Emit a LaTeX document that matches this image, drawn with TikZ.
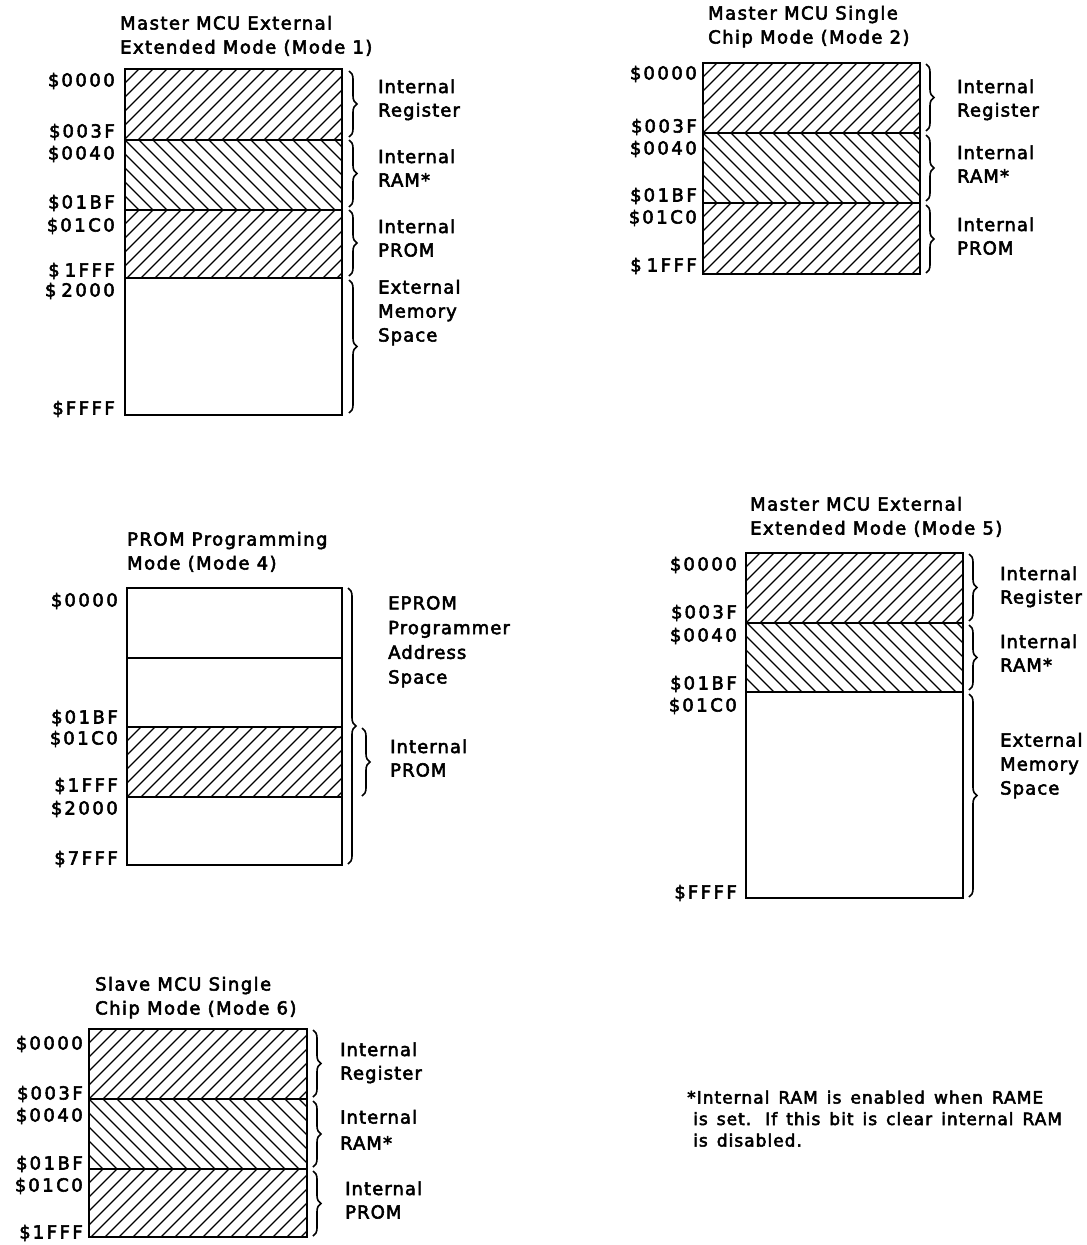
\documentclass[tikz,border=0pt]{standalone}
\usepackage{fontspec}
\setmainfont{DejaVu Sans}[LetterSpace=6,FakeBold=3]
\usetikzlibrary{decorations.pathreplacing}
\tikzset{
  lbl/.style={font=\fontsize{18}{23.5}\selectfont, inner sep=0pt, align=left, anchor=base west},
  ttl/.style={font=\fontsize{18}{24}\selectfont\addfontfeatures{LetterSpace=8}, inner sep=0pt, align=left, anchor=base west},
  addr/.style={font=\fontsize{18}{23.5}\selectfont\addfontfeatures{LetterSpace=14}, inner sep=0pt, anchor=base east},
  memoutline/.style={line width=2.8pt},
  hatchline/.style={line width=1.3pt},
  brc/.style={decorate, decoration={brace, amplitude=8pt}, line width=1.6pt},
}
\newcommand{\hatchNE}[4]{%
  \begin{scope}
    \clip (#1,#2) rectangle (#3,#4);
    \foreach \k in {0,...,26}{
      \pgfmathsetmacro{\cc}{#1+#2+\k*14}
      \draw[hatchline] ({\cc-#2},#2) -- ({\cc-#4},#4);
    }
  \end{scope}}
\newcommand{\hatchNW}[4]{%
  \begin{scope}
    \clip (#1,#2) rectangle (#3,#4);
    \foreach \k in {0,...,26}{
      \pgfmathsetmacro{\cc}{#1-#4+\k*14}
      \draw[hatchline] ({\cc+#2},#2) -- ({\cc+#4},#4);
    }
  \end{scope}}
\newcommand{\dol}{\$\hspace{2pt}}
\newcommand{\wsp}{\spaceskip=9pt\relax}
\begin{document}
\begin{tikzpicture}[x=1pt,y=-1pt]
\useasboundingbox (0,0) rectangle (1087,1245);

% ---------------- Mode 1 ----------------
\node[ttl] (t1) at (120,53.5) {Master MCU External\\Extended Mode (Mode 1)};
\hatchNE{125}{69}{342}{140}
\hatchNW{125}{140}{342}{210}
\hatchNE{125}{210}{342}{278}
\draw[memoutline] (125,69) rectangle (342,415);
\draw[memoutline] (125,140) -- (342,140) (125,210) -- (342,210) (125,278) -- (342,278);
\node[addr] (a1a) at (115,86.5) {\dol 0000};
\node[addr] (a1b) at (115,137.5) {\dol 003F};
\node[addr] (a1c) at (115,159.5) {\dol 0040};
\node[addr] (a1d) at (115,208.5) {\dol 01BF};
\node[addr] (a1e) at (115,231.5) {\dol 01C0};
\node[addr] (a1f) at (115,276.5) {\$\hspace{5pt}1FFF};
\node[addr] (a1g) at (115,296.5) {\$\hspace{5pt}2000};
\node[addr] (a1h) at (115,414.5) {\dol FFFF};
\coordinate (b1a) at (349,71);  \coordinate (b1b) at (349,137);
\coordinate (b1c) at (349,140); \coordinate (b1d) at (349,207);
\coordinate (b1e) at (349,210); \coordinate (b1f) at (349,276);
\coordinate (b1g) at (349,280); \coordinate (b1h) at (349,413);
\draw[brc] (b1a) -- (b1b);
\draw[brc] (b1c) -- (b1d);
\draw[brc] (b1e) -- (b1f);
\draw[brc] (b1g) -- (b1h);
\node[lbl] (l1a) at (378,116.5) {Internal\\Register};
\node[lbl] (l1b) at (378,186.5) {Internal\\RAM*};
\node[lbl] (l1c) at (378,256.5) {Internal\\PROM};
\node[lbl,font=\fontsize{18}{24}\selectfont] (l1d) at (378,341.5) {External\\Memory\\Space};

% ---------------- Mode 2 ----------------
\node[ttl] (t2) at (708,43.5) {Master MCU Single\\Chip Mode (Mode 2)};
\hatchNE{703}{63}{920}{133}
\hatchNW{703}{133}{920}{203}
\hatchNE{703}{203}{920}{274}
\draw[memoutline] (703,63) rectangle (920,274);
\draw[memoutline] (703,133) -- (920,133) (703,203) -- (920,203);
\node[addr] (a2a) at (697,79.5) {\dol 0000};
\node[addr] (a2b) at (697,132.5) {\dol 003F};
\node[addr] (a2c) at (697,154.5) {\dol 0040};
\node[addr] (a2d) at (697,201.5) {\dol 01BF};
\node[addr] (a2e) at (697,223.5) {\dol 01C0};
\node[addr] (a2f) at (697,271.5) {\$\hspace{5pt}1FFF};
\coordinate (b2a) at (926,64);  \coordinate (b2b) at (926,131);
\coordinate (b2c) at (926,135); \coordinate (b2d) at (926,201);
\coordinate (b2e) at (926,205); \coordinate (b2f) at (926,273);
\draw[brc] (b2a) -- (b2b);
\draw[brc] (b2c) -- (b2d);
\draw[brc] (b2e) -- (b2f);
\node[lbl] (l2a) at (957,116.5) {Internal\\Register};
\node[lbl] (l2b) at (957,182.5) {Internal\\RAM*};
\node[lbl] (l2c) at (957,254.5) {Internal\\PROM};

% ---------------- Mode 4 ----------------
\node[ttl] (t4) at (127,569.5) {PROM Programming\\Mode (Mode 4)};
\hatchNE{127}{727}{342}{797}
\draw[memoutline] (127,588) rectangle (342,865);
\draw[memoutline] (127,658) -- (342,658) (127,727) -- (342,727) (127,797) -- (342,797);
\node[addr] (a4a) at (118,606.5) {\dol 0000};
\node[addr] (a4b) at (118,723.5) {\dol 01BF};
\node[addr] (a4c) at (118,744.5) {\dol 01C0};
\node[addr] (a4d) at (118,791.5) {\dol 1FFF};
\node[addr] (a4e) at (118,814.5) {\dol 2000};
\node[addr] (a4f) at (118,864.5) {\dol 7FFF};
\coordinate (b4a) at (348,588); \coordinate (b4b) at (348,864);
\coordinate (b4c) at (362,728); \coordinate (b4d) at (362,796);
\draw[brc] (b4a) -- (b4b);
\draw[brc] (b4c) -- (b4d);
\node[lbl,font=\fontsize{18}{24.7}\selectfont] (l4a) at (388,683.5) {EPROM\\Programmer\\Address\\Space};
\node[lbl] (l4b) at (390,776.5) {Internal\\PROM};

% ---------------- Mode 5 ----------------
\node[ttl] (t5) at (750,534.5) {Master MCU External\\Extended Mode (Mode 5)};
\hatchNE{746}{553}{963}{623}
\hatchNW{746}{623}{963}{692}
\draw[memoutline] (746,553) rectangle (963,898);
\draw[memoutline] (746,623) -- (963,623) (746,692) -- (963,692);
\node[addr] (a5a) at (737,570.5) {\dol 0000};
\node[addr] (a5b) at (737,618.5) {\dol 003F};
\node[addr] (a5c) at (737,641.5) {\dol 0040};
\node[addr] (a5d) at (737,689.5) {\dol 01BF};
\node[addr] (a5e) at (737,711.5) {\dol 01C0};
\node[addr] (a5f) at (737,898.5) {\dol FFFF};
\coordinate (b5a) at (969,554); \coordinate (b5b) at (969,621);
\coordinate (b5c) at (969,625); \coordinate (b5d) at (969,690);
\coordinate (b5e) at (969,694); \coordinate (b5f) at (969,897);
\draw[brc] (b5a) -- (b5b);
\draw[brc] (b5c) -- (b5d);
\draw[brc] (b5e) -- (b5f);
\node[lbl] (l5a) at (1000,603.5) {Internal\\Register};
\node[lbl] (l5b) at (1000,671.5) {Internal\\RAM*};
\node[lbl,font=\fontsize{18}{24}\selectfont] (l5c) at (1000,794.5) {External\\Memory\\Space};

% ---------------- Mode 6 ----------------
\node[ttl] (t6) at (95,1014.5) {Slave MCU Single\\Chip Mode (Mode 6)};
\hatchNE{89}{1029}{307}{1099}
\hatchNW{89}{1099}{307}{1169}
\hatchNE{89}{1169}{307}{1237}
\draw[memoutline] (89,1029) rectangle (307,1237);
\draw[memoutline] (89,1099) -- (307,1099) (89,1169) -- (307,1169);
\node[addr] (a6a) at (83,1049.5) {\dol 0000};
\node[addr] (a6b) at (83,1099.5) {\dol 003F};
\node[addr] (a6c) at (83,1121.5) {\dol 0040};
\node[addr] (a6d) at (83,1169.5) {\dol 01BF};
\node[addr] (a6e) at (83,1191.5) {\dol 01C0};
\node[addr] (a6f) at (83,1238.5) {\dol 1FFF};
\coordinate (b6a) at (313,1030); \coordinate (b6b) at (313,1097);
\coordinate (b6c) at (313,1101); \coordinate (b6d) at (313,1167);
\coordinate (b6e) at (313,1171); \coordinate (b6f) at (313,1236);
\draw[brc] (b6a) -- (b6b);
\draw[brc] (b6c) -- (b6d);
\draw[brc] (b6e) -- (b6f);
\node[lbl] (l6a) at (340,1079.5) {Internal\\Register};
\node[lbl,font=\fontsize{18}{26}\selectfont] (l6b) at (340,1149.5) {Internal\\RAM*};
\node[lbl] (l6c) at (345,1218.5) {Internal\\PROM};

% ---------------- Footnote ----------------
\node[lbl,font=\fontsize{17}{21.5}\selectfont] (fn) at (687,1146.5)
  {\wsp *Internal RAM is enabled when RAME\\\hspace*{6pt}\wsp is set.\hspace{14pt}If this bit is clear internal RAM\\\hspace*{6pt}\wsp is disabled.};
\end{tikzpicture}
\end{document}
